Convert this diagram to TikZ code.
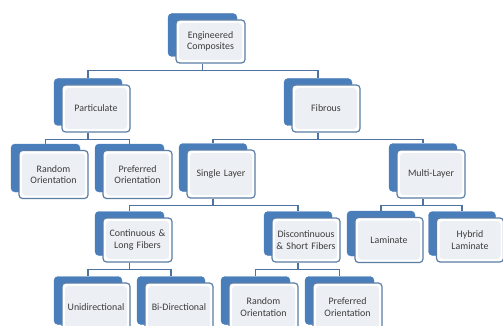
\documentclass[tikz,border=0pt]{standalone}
\usepackage{fontspec}
\setmainfont{Carlito}
\definecolor{backblue}{HTML}{4A7EBB}
\definecolor{frameblue}{HTML}{5A7DA6}
\definecolor{innerfill}{HTML}{ECEFF4}
\definecolor{linkblue}{HTML}{4E73A0}
\definecolor{txt}{HTML}{3C3C3C}
\tikzset{
  backbox/.style={fill=backblue, draw=backblue, rounded corners=4pt, inner sep=0pt},
  frontbox/.style={fill=white, draw=frameblue, line width=1.2pt, rounded corners=3.5pt,
    inner sep=0pt, align=center, text width=64pt, text=txt,
    font=\fontsize{9.9}{11.5}\selectfont,
    path picture={\fill[innerfill] ([shift={(3pt,3pt)}]path picture bounding box.south west)
      rectangle ([shift={(-3pt,-3pt)}]path picture bounding box.north east);}},
  link/.style={draw=linkblue, line width=1.4pt}
}
\newcommand\cbox[6]{%
  \node[backbox, minimum width=#4pt, minimum height=#5pt] (#1b) at (#2-8,#3-6.5) {};
  \node[frontbox, minimum width=#4pt, minimum height=#5pt] (#1) at (#2,#3) {#6};
}
\begin{document}
\begin{tikzpicture}[x=1pt,y=-1pt]
\useasboundingbox (0,0) rectangle (503,326);
\cbox{ec}{210.5}{41.5}{69}{43}{Engineered\\Composites}
\cbox{pa}{96}{108.5}{68}{47}{Particulate}
\cbox{fi}{326}{108.5}{68}{47}{Fibrous}
\cbox{roa}{53.5}{174.5}{69}{48}{Random\\Orientation}
\cbox{poa}{137.5}{174.5}{69}{48}{Preferred\\Orientation}
\cbox{sl}{221}{174}{68}{48}{Single Layer}
\cbox{ml}{431}{174}{68}{48}{Multi-Layer}
\cbox{co}{137.5}{240}{69}{44}{Continuous \&\\Long Fibers}
\cbox{di}{306}{240}{68}{44}{Discontinuous\\\& Short Fibers}
\cbox{la}{389}{240}{68}{45}{Laminate}
\cbox{hy}{470}{240}{67}{44}{Hybrid\\Laminate}
\cbox{un}{96}{307}{68}{48}{Unidirectional}
\cbox{bi}{179}{307}{68}{48}{Bi-Directional}
\cbox{rob}{263.5}{307}{69}{48}{Random\\Orientation}
\cbox{pob}{347.5}{307}{69}{48}{Preferred\\Orientation}
% connectors
\foreach \p/\c in {ec/pa, ec/fi, pa/roa, pa/poa, fi/sl, fi/ml, sl/co, sl/di,
                   ml/la, ml/hy, co/un, co/bi, di/rob, di/pob}
  \draw[link] (\p b.center |- \p.south) -- ++(0,7) -| (\c b.north);
\end{tikzpicture}
\end{document}
